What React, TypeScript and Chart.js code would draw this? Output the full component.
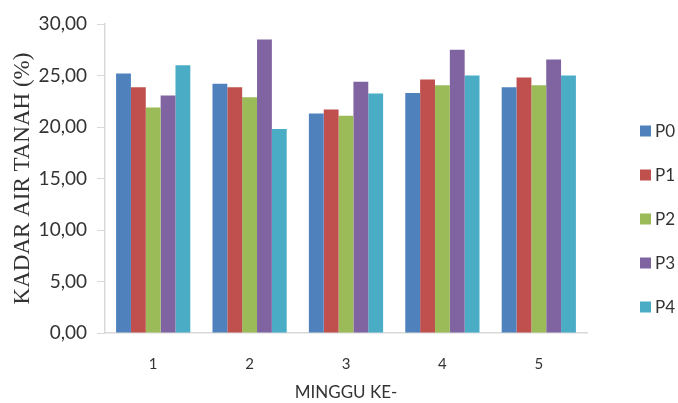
import React, { useEffect, useRef } from "react";
import { Chart, registerables } from "chart.js";

Chart.register(...registerables);

const categories = ["1", "2", "3", "4", "5"];
const seriesNames = ["P0", "P1", "P2", "P3", "P4"];
const P0 = [25.2, 24.2, 21.3, 23.3, 23.85];
const P1 = [23.85, 23.85, 21.7, 24.6, 24.8];
const P2 = [21.9, 22.9, 21.1, 24.05, 24.05];
const P3 = [23.05, 28.5, 24.4, 27.5, 26.55];
const P4 = [26.0, 19.8, 23.25, 25.0, 25.0];
const seriesValues = [P0, P1, P2, P3, P4];
const colors = ["#4F81BD", "#C0504D", "#9BBB59", "#8064A2", "#4BACC6"];
const yTicks = [0, 5, 10, 15, 20, 25, 30];

const legendPlugin = {
  id: "sideLegend",
  afterDraw(chart: any) {
    const ctx = chart.ctx;
    const ds = chart.data.datasets;
    ctx.save();
    ctx.font = "17px Lato";
    ctx.textBaseline = "middle";
    ctx.textAlign = "left";
    const cy = 219;
    const gap = 44;
    ds.forEach((d: any, i: number) => {
      const y = cy + (i - (ds.length - 1) / 2) * gap;
      ctx.fillStyle = d.backgroundColor;
      ctx.fillRect(640, y - 5.5, 11, 11);
      ctx.fillStyle = "#333";
      ctx.fillText(d.label, 655, y + 1);
    });
    ctx.restore();
  },
};

export default function App() {
  const ref = useRef<HTMLCanvasElement | null>(null);
  useEffect(() => {
    document.body.style.margin = "0";
    const chart = new Chart(ref.current!, {
      type: "bar",
      data: {
        labels: categories,
        datasets: seriesNames.map((n, i) => ({
          label: n,
          data: seriesValues[i],
          backgroundColor: colors[i],
          borderWidth: 0,
          categoryPercentage: 0.77,
          barPercentage: 1,
        })),
      },
      options: {
        responsive: false,
        animation: false,
        devicePixelRatio: 1,
        layout: { padding: { top: 24, right: 91, bottom: 0, left: 0 } },
        plugins: { legend: { display: false }, tooltip: { enabled: false } },
        scales: {
          x: {
            grid: { display: false },
            border: { display: true, color: "#d9d9d9", width: 1.5 },
            ticks: { font: { family: "Lato", size: 15 }, color: "#333", padding: 14 },
            title: {
              display: true,
              text: "MINGGU KE-",
              font: { family: "Lato", size: 17 },
              color: "#333",
              padding: { top: 0, bottom: 0 },
            },
            afterFit: (s: any) => {
              s.height = 70;
            },
          },
          y: {
            min: 0,
            max: 30,
            afterBuildTicks: (s: any) => {
              s.ticks = yTicks.map((v) => ({ value: v }));
            },
            grid: {
              display: true,
              drawOnChartArea: false,
              drawTicks: true,
              tickLength: 8,
              color: "#d9d9d9",
            },
            border: { display: true, color: "#d9d9d9", width: 1.5 },
            ticks: {
              font: { family: "Lato", size: 19 },
              color: "#333",
              padding: 10,
              callback: (v: any) => Number(v).toFixed(2).replace(".", ","),
            },
            title: {
              display: true,
              text: "KADAR AIR TANAH (%)",
              font: { family: "Liberation Serif", size: 23 },
              color: "#333",
              padding: { top: 9, bottom: 0 },
            },
            afterFit: (s: any) => {
              s.width = 105;
            },
          },
        },
      },
      plugins: [legendPlugin],
    });
    return () => chart.destroy();
  }, []);
  return (
    <div style={{ width: 678, height: 403 }}>
      <canvas ref={ref} width={678} height={403} />
    </div>
  );
}
